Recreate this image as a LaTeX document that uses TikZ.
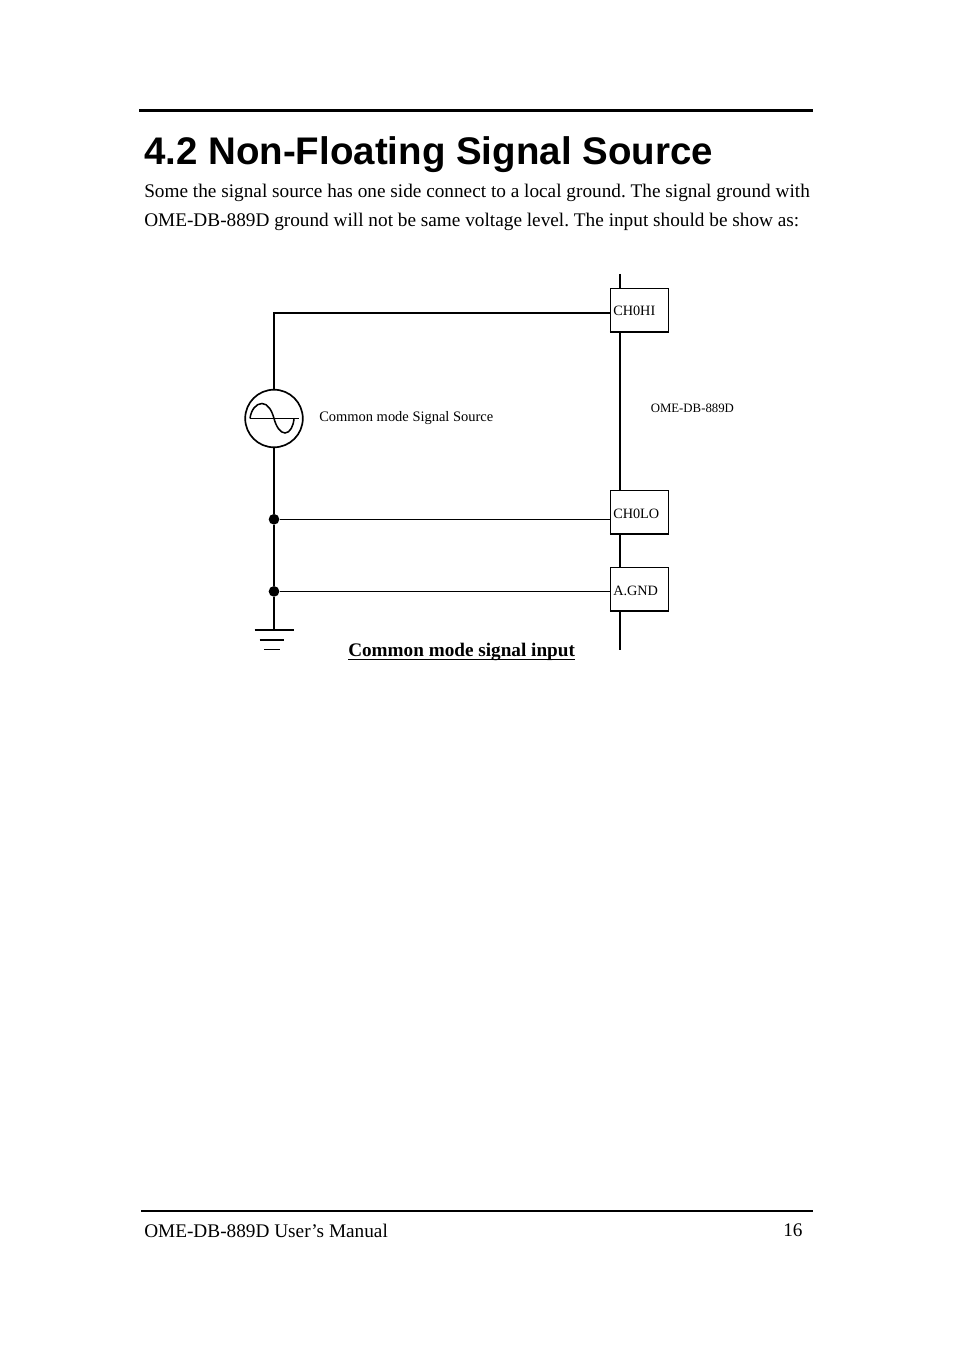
\documentclass[tikz,border=0pt]{standalone}
\usepackage{fontspec}
\setmainfont{Liberation Serif}
\newfontfamily\headfont{Liberation Sans}
\frenchspacing
\tikzset{
  x=0.75pt,y=-0.75pt,
  wire/.style={line width=1.15pt,black,line cap=butt},
  rule/.style={line width=2.2pt,black},
  pinbox/.style={draw=black,line width=1pt,fill=white,minimum width=43.5pt,minimum height=32.2pt,inner sep=0pt},
  pinlabel/.style={font=\fontsize{10.7}{12}\selectfont,anchor=base west,inner sep=0pt},
  small/.style={font=\fontsize{9.6}{12}\selectfont,anchor=base west,inner sep=0pt},
  body/.style={font=\fontsize{14.45}{17}\selectfont,anchor=base west,inner sep=0pt},
  dot/.style={circle,fill=black,inner sep=0pt,minimum size=8pt},
  source/.style={circle,draw=black,line width=1.25pt,inner sep=0pt,minimum size=43.2pt},
}
\begin{document}
\begin{tikzpicture}
\useasboundingbox (0,0) rectangle (954,1351);
% page rules
\coordinate (r1a) at (139,110.5); \coordinate (r1b) at (813,110.5);
\coordinate (r2a) at (141,1211); \coordinate (r2b) at (813,1211);
\draw[rule] (r1a) -- (r1b);
\draw[rule,line width=1.9pt] (r2a) -- (r2b);
% texts
\node[anchor=base west,inner sep=0pt,font=\headfont\bfseries\fontsize{28.85}{36}\selectfont] (title) at (144,165) {4.2 Non-Floating Signal Source};
\node[body] (l1) at (144,198) {Some the signal source has one side connect to a local ground. The signal ground with};
\node[body] (l2) at (144,227) {OME-DB-889D ground will not be same voltage level. The input should be show as:};
\node[body] (foot) at (144,1237) {OME-DB-889D User’s Manual};
\node[body] (pg) at (783,1236) {16};
% bus
\coordinate (bust) at (620,274); \coordinate (busb) at (620,650);
\draw[wire] (bust) -- (busb);
% boxes
\node[pinbox] (hi) at (639.5,310) {};
\node[pinbox] (lo) at (639.5,512) {};
\node[pinbox] (gnd) at (639.5,589) {};
\draw[line width=1.5pt] (hi.south west) -- (hi.south east);
\draw[line width=1.5pt] (lo.south west) -- (lo.south east);
\draw[line width=1.5pt] (gnd.south west) -- (gnd.south east);
\node[pinlabel] (hit) at (613,316) {CH0HI};
\node[pinlabel] (lot) at (613,518) {CH0LO};
\node[pinlabel] (gndt) at (613,595) {A.GND};
\node[small] (ome) at (650.5,412) {OME-DB-889D};
\node[pinlabel] (cm) at (319,421) {\fontsize{10.85}{12}\selectfont Common mode Signal Source};
% source
\node[source] (src) at (274,418.5) {};
\coordinate (sl) at (250,418.5); \coordinate (sr) at (299,418.5);
\draw[wire] (sl) -- (sr);
\coordinate (sm) at (274,418.5);
\draw[wire] (sl) .. controls (251,410) and (256,403.5) .. (262,403.5) .. controls (268,403.5) and (272,411) .. (sm) .. controls (276,426) and (280,433) .. (285,433) .. controls (290,433) and (293.5,426) .. (294,418.5);
% wires
\node[dot] (d1) at (274,519.3) {};
\node[dot] (d2) at (274,591.4) {};
\coordinate (corner) at (274,312.8);
\coordinate (gtop) at (274,630);
\draw[wire] (src.north) -- (corner) -- (corner -| hi.west);
\draw[wire] (src.south) -- (d1) -- (d2) -- (gtop);
\draw[wire] (d1) -- (d1 -| lo.west);
\draw[wire] (d2) -- (d2 -| gnd.west);
% ground
\coordinate (g1a) at (254.5,630); \coordinate (g1b) at (294,630);
\coordinate (g2a) at (259.5,640); \coordinate (g2b) at (284,640);
\coordinate (g3a) at (264,649.5); \coordinate (g3b) at (279.5,649.5);
\draw[wire] (g1a) -- (g1b);
\draw[wire] (g2a) -- (g2b);
\draw[wire] (g3a) -- (g3b);
% caption
\node[anchor=base west,inner sep=0pt,font=\bfseries\fontsize{14.4}{17}\selectfont] (cap) at (348,656) {Common mode signal input};
\coordinate (ula) at (348,659.5); \coordinate (ulb) at (575,659.5);
\draw[line width=0.9pt] (ula) -- (ulb);
\end{tikzpicture}
\end{document}
